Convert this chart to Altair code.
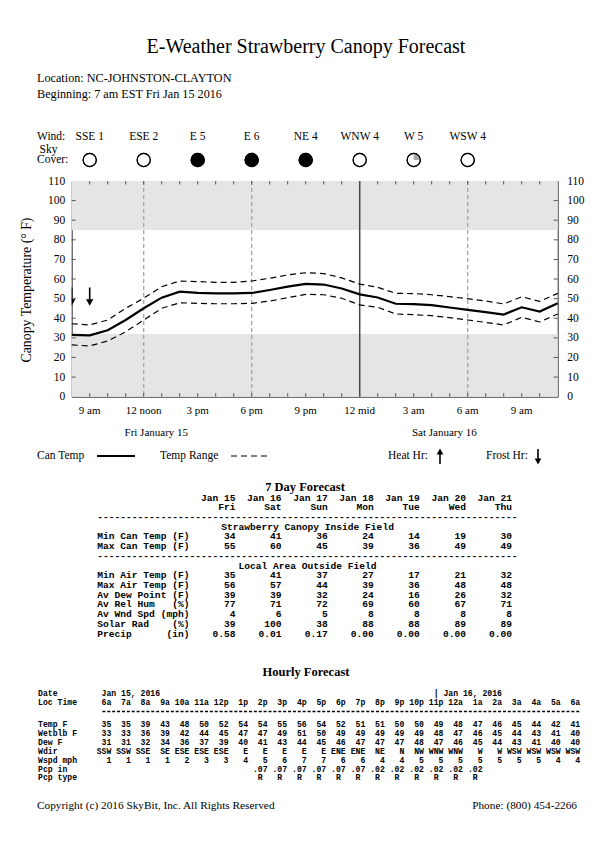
import math
import altair as alt
import pandas as pd

# ---------------------------------------------------------------- data
hours = list(range(8, 36))  # 8 am Fri .. 11 am Sat
can_temp = [31.5, 31.3, 33.9, 39.1, 45.1, 50.5, 53.6, 52.9, 52.7, 52.7, 52.9, 54.4, 56.1, 57.5,
            57.2, 55.2, 52.2, 50.6, 47.4, 47.2, 46.7, 45.5, 44.3, 43.1, 41.9, 45.6, 43.4, 47.6]
range_hi = [37.2, 36.6, 39.1, 45.1, 50.2, 56.1, 59.0, 58.7, 58.3, 58.3, 59.0, 60.4, 62.1, 63.2,
            62.8, 60.6, 57.4, 55.8, 52.7, 52.6, 52.0, 51.0, 50.0, 48.8, 47.3, 51.0, 48.6, 52.7]
range_lo = [26.4, 25.9, 28.4, 33.1, 39.1, 45.1, 47.9, 47.6, 47.4, 47.4, 47.6, 48.8, 50.5, 52.2,
            52.0, 50.2, 46.8, 45.6, 42.2, 41.8, 41.3, 40.3, 39.1, 37.9, 36.6, 40.5, 38.1, 42.2]
frost_hours = [8, 9]
band_lo = [0, 85]
band_hi = [32, 110]
dashed_grid_hours = [12, 18, 30]
midnight_hour = [24]

tick_hours = [9, 12, 15, 18, 21, 24, 27, 30, 33]
tick_labels = ["9 am", "12 noon", "3 pm", "6 pm", "9 pm", "12 mid", "3 am", "6 am", "9 am"]
y_ticks = list(range(0, 111, 10))
minor_hours = list(range(9, 35))

day_labels = ["Fri January 15", "Sat January 16"]
day_label_hours = [12.7, 28.7]

wind_hours = [9, 12, 15, 18, 21, 24, 27, 30]
wind_labels = ["SSE 1", "ESE 2", "E 5", "E 6", "NE 4", "WNW 4", "W 5", "WSW 4"]
sky_cover = [0, 0, 1, 1, 1, 0.12, 0.25, 0]

title = "E-Weather Strawberry Canopy Forecast"
location = "Location:  NC-JOHNSTON-CLAYTON"
beginning = "Beginning: 7 am EST Fri Jan 15 2016"

# 7 day forecast
sd_dates = ["Jan 15", "Jan 16", "Jan 17", "Jan 18", "Jan 19", "Jan 20", "Jan 21"]
sd_days = ["Fri", "Sat", "Sun", "Mon", "Tue", "Wed", "Thu"]
sd_canopy_labels = ["Min Can Temp (F)", "Max Can Temp (F)"]
sd_canopy_vals = [[34, 41, 36, 24, 14, 19, 30],
                  [55, 60, 45, 39, 36, 49, 49]]
sd_area_labels = ["Min Air Temp (F)", "Max Air Temp (F)", "Av Dew Point (F)", "Av Rel Hum   (%)",
                  "Av Wnd Spd (mph)", "Solar Rad    (%)", "Precip      (in)"]
sd_area_vals = [["35", "41", "37", "27", "17", "21", "32"],
                ["56", "57", "44", "39", "36", "48", "48"],
                ["39", "39", "32", "24", "16", "26", "32"],
                ["77", "71", "72", "69", "60", "67", "71"],
                ["4", "6", "5", "8", "8", "8", "8"],
                ["39", "100", "38", "88", "88", "89", "89"],
                ["0.58", "0.01", "0.17", "0.00", "0.00", "0.00", "0.00"]]

# hourly forecast
hr_times = ["6a", "7a", "8a", "9a", "10a", "11a", "12p", "1p", "2p", "3p", "4p", "5p", "6p",
            "7p", "8p", "9p", "10p", "11p", "12a", "1a", "2a", "3a", "4a", "5a", "6a"]
hr_temp = [35, 35, 39, 43, 48, 50, 52, 54, 54, 55, 56, 54, 52, 51, 51, 50, 50, 49, 48, 47, 46, 45, 44, 42, 41]
hr_wetblb = [33, 33, 36, 39, 42, 44, 45, 47, 47, 49, 51, 50, 49, 49, 49, 49, 49, 48, 47, 46, 45, 44, 43, 41, 40]
hr_dew = [31, 31, 32, 34, 36, 37, 39, 40, 41, 43, 44, 45, 46, 47, 47, 47, 48, 47, 46, 45, 44, 43, 41, 40, 40]
hr_wdir = ["SSW", "SSW", "SSE", "SE", "ESE", "ESE", "ESE", "E", "E", "E", "E", "E", "ENE", "ENE",
           "NE", "N", "NW", "WNW", "WNW", "W", "W", "WSW", "WSW", "WSW", "WSW"]
hr_wspd = [1, 1, 1, 1, 2, 3, 3, 4, 5, 6, 7, 7, 6, 6, 4, 4, 5, 5, 5, 5, 5, 5, 5, 4, 4]
hr_pcp = ["", "", "", "", "", "", "", "", ".07", ".07", ".07", ".07", ".07", ".07",
          ".02", ".02", ".02", ".02", ".02", ".02", "", "", "", "", ""]
hr_ptype = ["", "", "", "", "", "", "", "", "R", "R", "R", "R", "R", "R",
            "R", "R", "R", "R", "R", "R", "", "", "", "", ""]
hr_date1 = "Jan 15, 2016"
hr_date2 = "| Jan 16, 2016"

# ---------------------------------------------------------------- layout
X0, Y0 = 71.7, 181.0        # page position of the plot area
W, H = 486.0, 215.7
SERIF = "Liberation Serif"
MONO = "Liberation Mono"


def rx(x):
    return x - X0


def ry(y):
    return y - Y0


xs = alt.Scale(domain=[8, 35], nice=False, zero=False)
ys = alt.Scale(domain=[0, 110], nice=False, zero=False)
one = pd.DataFrame({"a": [0]})

# ---------------------------------------------------------------- plot layers
bands = alt.Chart(pd.DataFrame({"lo": band_lo, "hi": band_hi})).mark_rect(color="#e5e5e5").encode(
    x=alt.value(0), x2=alt.value(W),
    y=alt.Y("lo:Q", scale=ys, axis=alt.Axis(orient="left", values=y_ticks, ticks=False, domain=False,
                                             grid=False, labelFont=SERIF, labelFontSize=11.5,
                                             labelColor="black", labelPadding=7, title=None)),
    y2="hi:Q")

grid = alt.Chart(pd.DataFrame({"h": dashed_grid_hours})).mark_rule(
    color="#a6a6a6", strokeDash=[4, 3], strokeWidth=1.3).encode(
    x=alt.X("h:Q", scale=xs, axis=None), y=alt.value(0), y2=alt.value(H))

midrule = alt.Chart(pd.DataFrame({"h": midnight_hour})).mark_rule(
    color="#444444", strokeWidth=1.5).encode(
    x=alt.X("h:Q", scale=xs, axis=None), y=alt.value(0), y2=alt.value(H))

mh = pd.DataFrame({"h": minor_hours})
xtick_top = alt.Chart(mh).mark_rule(color="#555555").encode(
    x=alt.X("h:Q", scale=xs, axis=None), y=alt.value(0), y2=alt.value(3.5))
xtick_bot = alt.Chart(mh).mark_rule(color="#555555").encode(
    x=alt.X("h:Q", scale=xs, axis=None), y=alt.value(H - 3.5), y2=alt.value(H))
yt = pd.DataFrame({"v": y_ticks[1:-1]})
ytick_l = alt.Chart(yt).mark_rule(color="#555555").encode(
    y=alt.Y("v:Q", scale=ys, axis=None), x=alt.value(0), x2=alt.value(4))
ytick_r = alt.Chart(yt).mark_rule(color="#555555").encode(
    y=alt.Y("v:Q", scale=ys, axis=None), x=alt.value(W - 4), x2=alt.value(W))

rng = pd.DataFrame({"h": hours * 2, "t": range_hi + range_lo,
                    "s": ["hi"] * len(hours) + ["lo"] * len(hours)})
range_lines = alt.Chart(rng).mark_line(color="black", strokeWidth=1.2, strokeDash=[6, 4]).encode(
    x=alt.X("h:Q", scale=xs, axis=None), y=alt.Y("t:Q", scale=ys, axis=None), detail="s:N")

can_line = alt.Chart(pd.DataFrame({"h": hours, "t": can_temp})).mark_line(
    color="black", strokeWidth=2.2).encode(
    x=alt.X("h:Q", scale=xs, axis=None),
    y=alt.Y("t:Q", scale=ys, axis=alt.Axis(orient="right", values=y_ticks, ticks=False, domain=False,
                                           grid=False, labelFont=SERIF, labelFontSize=11.5,
                                           labelColor="black", labelPadding=9, title=None)))

fr = pd.DataFrame({"h": frost_hours})
frost_stem = alt.Chart(fr).mark_rule(color="black", strokeWidth=1.6, clip=True).encode(
    x=alt.X("h:Q", scale=xs, axis=None), y=alt.value(ry(287.5)), y2=alt.value(ry(300)))
frost_head = alt.Chart(fr).mark_point(shape="triangle-down", filled=True, color="black",
                                      size=55, opacity=1, clip=True).encode(
    x=alt.X("h:Q", scale=xs, axis=None), y=alt.value(ry(302.5)))

# ---------------------------------------------------------------- wind / sky row
sky = pd.DataFrame({"h": wind_hours, "c": sky_cover})
sky["fillc"] = ["black" if c >= 1 else "white" for c in sky_cover]
sky["t0"] = 0.0
sky["t1"] = [c * 2 * math.pi for c in sky_cover]
sky["shade"] = ["#dadada" if c < 0.2 else "#a8a8a8" for c in sky_cover]
SKY_Y = ry(160)
sky_base = alt.Chart(sky).mark_point(shape="circle", filled=True, size=175, stroke="black",
                                     strokeWidth=1.1, opacity=1).encode(
    x=alt.X("h:Q", scale=xs, axis=None), y=alt.value(SKY_Y), fill=alt.Fill("fillc:N", scale=None))
sky_part = alt.Chart(sky).transform_filter("datum.c > 0 && datum.c < 1").mark_arc(radius=6.6).encode(
    x=alt.X("h:Q", scale=xs, axis=None), y=alt.value(SKY_Y),
    theta=alt.Theta("t0:Q", scale=None), theta2="t1:Q", fill=alt.Fill("shade:N", scale=None))
sky_ring = alt.Chart(sky).mark_point(shape="circle", filled=False, size=175, color="black",
                                     strokeWidth=1.1, opacity=1).encode(
    x=alt.X("h:Q", scale=xs, axis=None), y=alt.value(SKY_Y))

# texts anchored to the time scale (wind labels, hour tick labels, day labels)
hour_txt = pd.DataFrame({
    "h": wind_hours + tick_hours + day_label_hours,
    "y": [ry(137)] * len(wind_hours) + [ry(411)] * len(tick_hours) + [ry(433)] * len(day_label_hours),
    "t": wind_labels + tick_labels + day_labels,
    "fs": [11.5] * len(wind_hours) + [11] * len(tick_hours) + [11] * len(day_labels)})
hour_text = alt.Chart(hour_txt).mark_text(font=SERIF, align="center", baseline="middle",
                                          color="black").encode(
    x=alt.X("h:Q", scale=xs, axis=None), y=alt.Y("y:Q", scale=None, axis=None), text="t:N",
    size=alt.Size("fs:Q", scale=None, legend=None))


def text_layer(rows, font, align, weight="normal", angle=0):
    df = pd.DataFrame(rows, columns=["x", "y", "t", "fs"])
    return alt.Chart(df).mark_text(font=font, align=align, baseline="middle", color="black",
                                   fontWeight=weight, angle=angle).encode(
        x=alt.X("x:Q", scale=None, axis=None), y=alt.Y("y:Q", scale=None, axis=None), text="t:N",
        size=alt.Size("fs:Q", scale=None, legend=None))


serif_left = text_layer([
    (rx(37), ry(78), location, 12.2),
    (rx(37), ry(94), beginning, 12.2),
    (rx(37), ry(137), "Wind:", 11.5),
    (rx(37), ry(160), "Cover:", 11.5),
    (rx(37), ry(456), "Can Temp", 11.5),
    (rx(160), ry(456), "Temp Range", 11.5),
    (rx(388), ry(456), "Heat  Hr:", 11.5),
    (rx(486), ry(456), "Frost Hr:", 11.5),
    (rx(37), ry(806), "Copyright (c) 2016 SkyBit, Inc. All Rights Reserved", 11.3),
], SERIF, "left")
serif_center = text_layer([
    (rx(306), ry(47), title, 20),
    (rx(48.5), ry(149.5), "Sky", 11.5),
], SERIF, "center")
serif_right = text_layer([
    (rx(577), ry(806), "Phone: (800) 454-2266", 11.3),
], SERIF, "right")
serif_bold = text_layer([
    (rx(305), ry(486.5), "7 Day Forecast", 12.5),
    (rx(306), ry(672), "Hourly Forecast", 12.5),
], SERIF, "center", weight="bold")
ytitle = text_layer([(rx(27), ry(290), "Canopy Temperature (\u00b0 F)", 13.8)], SERIF, "center", angle=270)

# legend glyphs
leg_solid = alt.Chart(one).mark_rule(color="black", strokeWidth=2.2).encode(
    x=alt.value(rx(97)), x2=alt.value(rx(135)), y=alt.value(ry(456)))
leg_dash = alt.Chart(one).mark_rule(color="black", strokeWidth=1.2, strokeDash=[6, 4]).encode(
    x=alt.value(rx(231)), x2=alt.value(rx(270)), y=alt.value(ry(456)))
heat_stem = alt.Chart(one).mark_rule(color="black", strokeWidth=1.6).encode(
    x=alt.value(rx(440)), y=alt.value(ry(453)), y2=alt.value(ry(464)))
heat_head = alt.Chart(one).mark_point(shape="triangle-up", filled=True, color="black", size=45,
                                      opacity=1).encode(x=alt.value(rx(440)), y=alt.value(ry(451.5)))
fro_stem = alt.Chart(one).mark_rule(color="black", strokeWidth=1.6).encode(
    x=alt.value(rx(538)), y=alt.value(ry(449)), y2=alt.value(ry(460)))
fro_head = alt.Chart(one).mark_point(shape="triangle-down", filled=True, color="black", size=45,
                                     opacity=1).encode(x=alt.value(rx(538)), y=alt.value(ry(461.5)))

# ---------------------------------------------------------------- 7 day table
SX0, SCW, SFS = 97.3, 5.76, 9.6
SY0, SDY = 497.5, 9.72


def sd_x(col):
    return rx(SX0 + col * SCW)


def sd_y(line):
    return ry(SY0 + line * SDY)


sd_left, sd_right, sd_center = [], [], []
for i in range(7):
    sd_right.append((sd_x(24 + 8 * i), sd_y(0), sd_dates[i], SFS))
    sd_right.append((sd_x(24 + 8 * i), sd_y(1), sd_days[i], SFS))
sd_left.append((sd_x(0), sd_y(2), "-" * 73, SFS))
sd_center.append((sd_x(36.5), sd_y(3), "Strawberry Canopy Inside Field", SFS))
for r, (lab, vals) in enumerate(zip(sd_canopy_labels, sd_canopy_vals)):
    sd_left.append((sd_x(0), sd_y(4 + r), lab, SFS))
    for i, v in enumerate(vals):
        sd_right.append((sd_x(24 + 8 * i), sd_y(4 + r), str(v), SFS))
sd_left.append((sd_x(0), sd_y(6), "-" * 73, SFS))
sd_center.append((sd_x(36.5), sd_y(7), "Local Area Outside Field", SFS))
for r, (lab, vals) in enumerate(zip(sd_area_labels, sd_area_vals)):
    sd_left.append((sd_x(0), sd_y(8 + r), lab.replace(" ", "\u00a0"), SFS))
    for i, v in enumerate(vals):
        sd_right.append((sd_x(24 + 8 * i), sd_y(8 + r), v, SFS))

# ---------------------------------------------------------------- hourly table
HX0, HCW, HFS = 38.0, 4.885, 8.14
hy = {"date": 694, "time": 703, "dash": 711.5}
HY_ROW0, HDY = 725, 8.9


def h_x(col):
    return rx(HX0 + col * HCW)


h_left, h_right = [], []
h_left.append((h_x(0), ry(hy["date"]), "Date", HFS))
h_left.append((h_x(13), ry(hy["date"]), hr_date1, HFS))
h_left.append((h_x(81), ry(hy["date"]), hr_date2, HFS))
h_left.append((h_x(0), ry(hy["time"]), "Loc Time", HFS))
for i, t in enumerate(hr_times):
    h_right.append((h_x(15 + 4 * i), ry(hy["time"]), t, HFS))
hr_rows = [("Temp F", hr_temp, 15), ("Wetblb F", hr_wetblb, 15), ("Dew F", hr_dew, 15),
           ("Wdir", hr_wdir, 15), ("Wspd mph", hr_wspd, 15), ("Pcp in", hr_pcp, 15),
           ("Pcp type", hr_ptype, 14)]
for r, (lab, vals, c0) in enumerate(hr_rows):
    yy = ry(HY_ROW0 + r * HDY)
    h_left.append((h_x(0), yy, lab, HFS))
    for i, v in enumerate(vals):
        if str(v) != "":
            h_right.append((h_x(c0 + 4 * i), yy, str(v), HFS))

# separator of the hourly table, drawn as a dashed rule (one dash per character cell)
h_dash = alt.Chart(one).mark_rule(color="black", strokeWidth=1.4, strokeDash=[3, HCW - 3]).encode(
    x=alt.value(h_x(13) + 0.9), x2=alt.value(h_x(111)), y=alt.value(ry(hy["dash"])))

sd_l = text_layer(sd_left, MONO, "left", weight="bold")
sd_r = text_layer(sd_right, MONO, "right", weight="bold")
sd_c = text_layer(sd_center, MONO, "center", weight="bold")
h_l = text_layer(h_left, MONO, "left", weight="bold")
h_r = text_layer(h_right, MONO, "right", weight="bold")

# ---------------------------------------------------------------- assemble
TOTAL_W, TOTAL_H = 596, 846
chart = alt.layer(
    bands, grid, midrule, xtick_top, xtick_bot, ytick_l, ytick_r,
    range_lines, can_line, frost_stem, frost_head,
    sky_base, sky_part, sky_ring, hour_text,
    serif_left, serif_center, serif_right, serif_bold, ytitle,
    leg_solid, leg_dash, heat_stem, heat_head, fro_stem, fro_head,
    sd_l, sd_r, sd_c, h_l, h_r, h_dash,
).resolve_axis(y="independent").properties(
    width=W, height=H,
    autosize=alt.AutoSizeParams(type="none"),
    padding={"left": X0 - 8, "top": Y0 - 8, "right": TOTAL_W - (X0 - 8) - W,
             "bottom": TOTAL_H - (Y0 - 8) - H},
    background="white",
).configure_view(stroke="#333333", strokeWidth=1)

chart.save("out.html", embed_options={"renderer": "svg", "actions": False})
